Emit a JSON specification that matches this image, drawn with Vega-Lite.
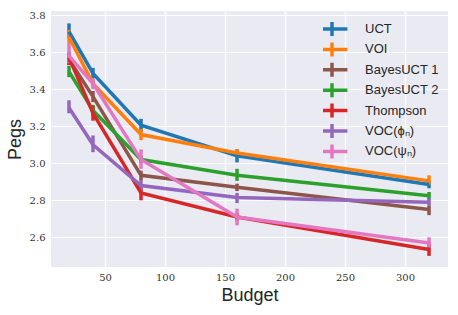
{
  "$schema": "https://vega.github.io/schema/vega-lite/v6.json",
  "width": 397,
  "height": 256,
  "autosize": {"type": "none"},
  "padding": {"left": 51, "top": 11, "right": 10, "bottom": 48},
  "background": "white",
  "config": {
    "view": {"fill": "#EAEAF2", "stroke": null},
    "axis": {
      "grid": true, "gridColor": "white", "gridWidth": 1.2,
      "domain": false, "ticks": false,
      "labelFont": "DejaVu Serif", "labelFontSize": 10, "labelColor": "#333333",
      "titleFont": "Liberation Sans", "titleFontSize": 18, "titleFontWeight": "normal", "titleColor": "#262626"
    }
  },
  "data": {"values": [
    {"method": "UCT", "budget": 20, "pegs": 3.71, "lo": 3.675, "hi": 3.755},
    {"method": "UCT", "budget": 40, "pegs": 3.485, "lo": 3.46, "hi": 3.515},
    {"method": "UCT", "budget": 80, "pegs": 3.205, "lo": 3.17, "hi": 3.24},
    {"method": "UCT", "budget": 160, "pegs": 3.04, "lo": 3.005, "hi": 3.075},
    {"method": "UCT", "budget": 320, "pegs": 2.885, "lo": 2.865, "hi": 2.905},
    {"method": "VOI", "budget": 20, "pegs": 3.68, "lo": 3.65, "hi": 3.72},
    {"method": "VOI", "budget": 40, "pegs": 3.43, "lo": 3.41, "hi": 3.45},
    {"method": "VOI", "budget": 80, "pegs": 3.155, "lo": 3.125, "hi": 3.185},
    {"method": "VOI", "budget": 160, "pegs": 3.055, "lo": 3.035, "hi": 3.075},
    {"method": "VOI", "budget": 320, "pegs": 2.905, "lo": 2.885, "hi": 2.935},
    {"method": "BayesUCT 1", "budget": 20, "pegs": 3.56, "lo": 3.53, "hi": 3.59},
    {"method": "BayesUCT 1", "budget": 40, "pegs": 3.36, "lo": 3.33, "hi": 3.39},
    {"method": "BayesUCT 1", "budget": 80, "pegs": 2.935, "lo": 2.905, "hi": 2.96},
    {"method": "BayesUCT 1", "budget": 160, "pegs": 2.87, "lo": 2.85, "hi": 2.89},
    {"method": "BayesUCT 1", "budget": 320, "pegs": 2.75, "lo": 2.72, "hi": 2.77},
    {"method": "BayesUCT 2", "budget": 20, "pegs": 3.495, "lo": 3.465, "hi": 3.525},
    {"method": "BayesUCT 2", "budget": 40, "pegs": 3.285, "lo": 3.255, "hi": 3.315},
    {"method": "BayesUCT 2", "budget": 80, "pegs": 3.02, "lo": 3.0, "hi": 3.04},
    {"method": "BayesUCT 2", "budget": 160, "pegs": 2.935, "lo": 2.905, "hi": 2.97},
    {"method": "BayesUCT 2", "budget": 320, "pegs": 2.825, "lo": 2.805, "hi": 2.845},
    {"method": "Thompson", "budget": 20, "pegs": 3.57, "lo": 3.53, "hi": 3.6},
    {"method": "Thompson", "budget": 40, "pegs": 3.27, "lo": 3.23, "hi": 3.31},
    {"method": "Thompson", "budget": 80, "pegs": 2.84, "lo": 2.8, "hi": 2.87},
    {"method": "Thompson", "budget": 160, "pegs": 2.71, "lo": 2.69, "hi": 2.73},
    {"method": "Thompson", "budget": 320, "pegs": 2.535, "lo": 2.5, "hi": 2.57},
    {"method": "VOC(ϕₙ)", "budget": 20, "pegs": 3.3, "lo": 3.27, "hi": 3.34},
    {"method": "VOC(ϕₙ)", "budget": 40, "pegs": 3.1, "lo": 3.06, "hi": 3.15},
    {"method": "VOC(ϕₙ)", "budget": 80, "pegs": 2.88, "lo": 2.855, "hi": 2.905},
    {"method": "VOC(ϕₙ)", "budget": 160, "pegs": 2.815, "lo": 2.785, "hi": 2.84},
    {"method": "VOC(ϕₙ)", "budget": 320, "pegs": 2.79, "lo": 2.77, "hi": 2.81},
    {"method": "VOC(ψₙ)", "budget": 20, "pegs": 3.58, "lo": 3.54, "hi": 3.65},
    {"method": "VOC(ψₙ)", "budget": 40, "pegs": 3.43, "lo": 3.4, "hi": 3.46},
    {"method": "VOC(ψₙ)", "budget": 80, "pegs": 3.02, "lo": 2.97, "hi": 3.075},
    {"method": "VOC(ψₙ)", "budget": 160, "pegs": 2.71, "lo": 2.665, "hi": 2.755},
    {"method": "VOC(ψₙ)", "budget": 320, "pegs": 2.57, "lo": 2.545, "hi": 2.6}
  ]},
  "encoding": {
    "x": {"field": "budget", "type": "quantitative", "title": "Budget",
      "scale": {"domain": [5, 335.8], "nice": false, "zero": false},
      "axis": {"values": [50, 100, 150, 200, 250, 300], "labelPadding": 5, "titlePadding": 4}},
    "color": {"field": "method", "type": "nominal",
      "sort": ["UCT", "VOI", "BayesUCT 1", "BayesUCT 2", "Thompson", "VOC(ϕₙ)", "VOC(ψₙ)"],
      "scale": {"domain": ["UCT", "VOI", "BayesUCT 1", "BayesUCT 2", "Thompson", "VOC(ϕₙ)", "VOC(ψₙ)"],
        "range": ["#1f77b4", "#ff7f0e", "#8c564b", "#2ca02c", "#d62728", "#9467bd", "#e377c2"]},
      "legend": {
        "title": null, "orient": "none", "legendX": 272, "legendY": 9.5, "padding": 0,
        "symbolType": "M-2.2,0H2.2M0,-1V1", "symbolSize": 196, "symbolStrokeWidth": 3.5,
        "symbolFillColor": "transparent",
        "labelFont": "Liberation Sans", "labelFontSize": 13, "labelColor": "#262626",
        "labelOffset": 24, "clipHeight": 17, "rowPadding": 3.4
      }}
  },
  "layer": [
    {"mark": {"type": "rule", "strokeWidth": 3.5},
     "encoding": {
       "y": {"field": "lo", "type": "quantitative"},
       "y2": {"field": "hi"}
     }},
    {"mark": {"type": "line", "strokeWidth": 3.5},
     "encoding": {
       "y": {"field": "pegs", "type": "quantitative", "title": "Pegs",
         "scale": {"domain": [2.44, 3.822], "nice": false, "zero": false},
         "axis": {"values": [2.6, 2.8, 3.0, 3.2, 3.4, 3.6, 3.8], "format": ".1f", "labelPadding": 6, "titlePadding": 5}}
     }}
  ]
}
